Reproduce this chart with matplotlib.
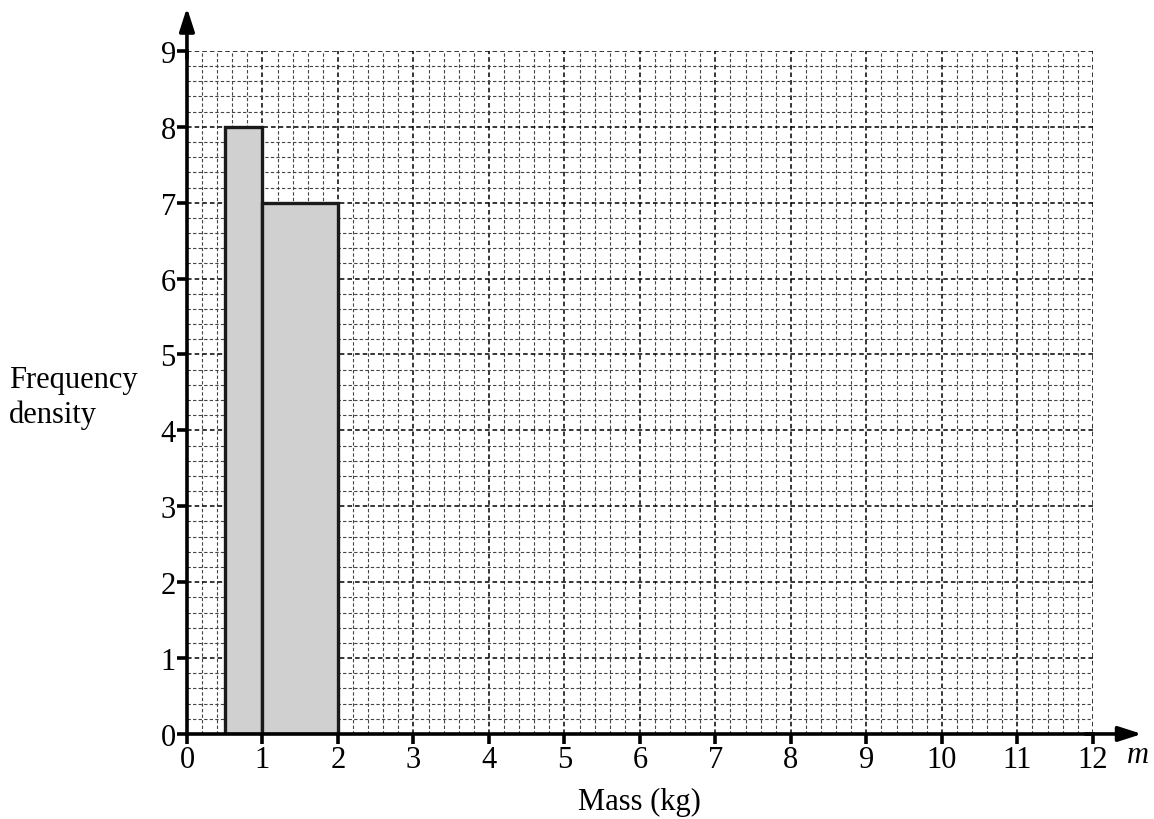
import numpy as np
import matplotlib.pyplot as plt

plt.rcParams['font.family'] = ['Liberation Serif', 'DejaVu Serif']

# Histogram class boundaries and frequency densities
class_lower = [0.5, 1.0]
class_upper = [1.0, 2.0]
freq_density = [8, 7]

x_ticks = list(range(0, 13))
y_ticks = list(range(0, 10))

fig = plt.figure(figsize=(11.54, 8.2), dpi=100)
ax = fig.add_axes([0.162, 0.1037, 0.785, 0.833])

# Grid: fine dashed lines every 0.2, heavier dashed at integers
ax.set_xticks(x_ticks)
ax.set_yticks(y_ticks)
ax.set_xticks(np.arange(0, 12.01, 0.2), minor=True)
ax.set_yticks(np.arange(0, 9.01, 0.2), minor=True)
ax.grid(which='minor', color='#444444', linestyle=(0, (3, 2)), linewidth=0.8)
ax.grid(which='major', color='black', linestyle=(0, (3, 2)), linewidth=1.1)
ax.set_axisbelow(True)

# Bars
widths = [u - l for l, u in zip(class_lower, class_upper)]
ax.bar(class_lower, freq_density, width=widths, align='edge',
       color='#d0d0d0', edgecolor='#1a1a1a', linewidth=2.4, zorder=3)

ax.set_xlim(0, 12)
ax.set_ylim(0, 9)

for s in ['top', 'right']:
    ax.spines[s].set_visible(False)
for s in ['left', 'bottom']:
    ax.spines[s].set_linewidth(2.6)
    ax.spines[s].set_zorder(4)

ax.tick_params(which='major', length=7, width=2.6, labelsize=22, direction='out', pad=1)
ax.tick_params(which='minor', length=0)

# Axis arrows
ax.annotate('', xy=(12.65, 0), xytext=(11.9, 0), annotation_clip=False,
            arrowprops=dict(arrowstyle='-|>,head_length=1.4,head_width=0.45',
                            color='black', lw=2.6, shrinkA=0, shrinkB=0))
ax.annotate('', xy=(0, 9.57), xytext=(0, 8.9), annotation_clip=False,
            arrowprops=dict(arrowstyle='-|>,head_length=1.4,head_width=0.45',
                            color='black', lw=2.6, shrinkA=0, shrinkB=0))

ax.text(12.45, -0.08, 'm', fontsize=22, style='italic', ha='left', va='top')
ax.set_xlabel('Mass (kg)', fontsize=22, labelpad=9)
fig.text(0.008, 0.515, 'Frequency\ndensity', fontsize=22, ha='left', va='center',
         linespacing=1.25)

fig.savefig('out.png', dpi=100)
